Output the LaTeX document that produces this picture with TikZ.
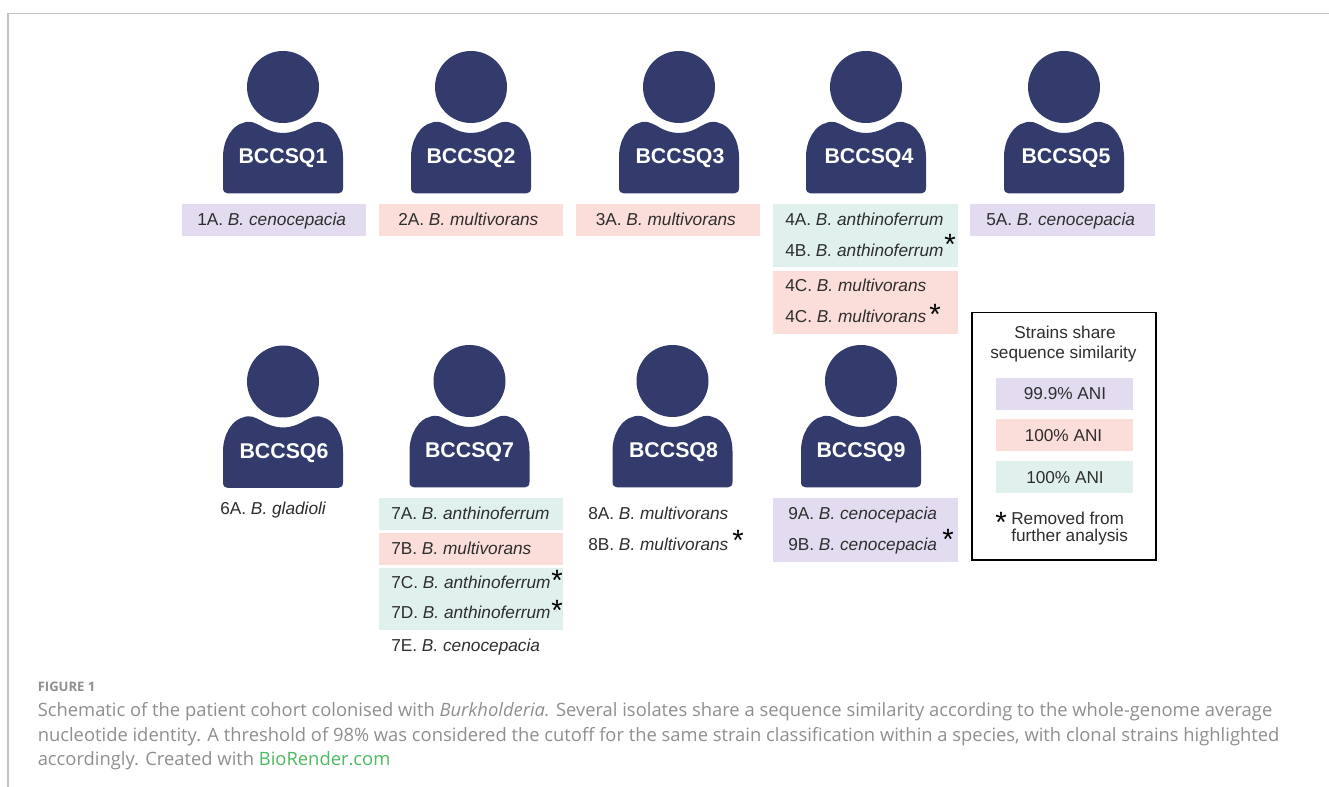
\documentclass[tikz,border=0pt]{standalone}
\usepackage{fontspec}
\setmainfont{Liberation Sans}
\newfontfamily\capfont{Open Sans}
\definecolor{navy}{HTML}{323B6B}
\definecolor{cpurple}{HTML}{E3DCF0}
\definecolor{cpink}{HTML}{FBDDDA}
\definecolor{cgreen}{HTML}{E0F1ED}
\definecolor{ink}{HTML}{2E2E2E}
\definecolor{capgrey}{HTML}{8F8F8F}
\definecolor{framegrey}{HTML}{C4C4C4}
\definecolor{linkgreen}{HTML}{4DBB5F}
\tikzset{
  lab/.style={anchor=base west,inner sep=0pt,text=ink,font=\fontsize{12.95}{14}\selectfont},
  legtxt/.style={anchor=base,inner sep=0pt,text=ink,align=center,font=\fontsize{12.9}{15}\selectfont},
  star/.style={anchor=center,inner sep=0pt,text=black,font=\fontsize{22}{22}\selectfont},
  patient/.style={anchor=center,inner sep=0pt,text=white,font=\bfseries\fontsize{16}{18}\selectfont},
  capt/.style={anchor=base west,inner sep=0pt,text=capgrey,font=\capfont\fontsize{13.78}{15}\selectfont},
}
\newcommand{\person}[5]{%
  \begin{scope}[shift={(#2,#3)}]
    \fill[navy] (0,0) circle[radius=36];
    \fill[navy] (-60,101) -- (-60,70)
      .. controls (-60,52) and (-50,38) .. (-40,36)
      .. controls (-33,33) and (-28,36) .. (-22,39)
      .. controls (-14,44) and (-7,46) .. (0,46)
      .. controls (7,46) and (14,44) .. (22,39)
      .. controls (28,36) and (33,33) .. (40,36)
      .. controls (50,38) and (60,52) .. (60,70)
      -- (60,101) .. controls (60,104.5) and (58,106.5) .. (55,106.5)
      -- (-55,106.5) .. controls (-58,106.5) and (-60,104.5) .. (-60,101) -- cycle;
    \node[patient] (#1) at (#5,71.5) {#4};
  \end{scope}}
\newcommand{\strain}[5]{\node[lab] (#1) at (#2,#3) {#4 \textit{B. #5}};}
\begin{document}
\begin{tikzpicture}[x=0.75pt,y=-0.75pt]
\useasboundingbox (0,0) rectangle (1329,787);
\fill[white] (0,0) rectangle (1329,787);
\draw[framegrey,line width=0.8pt] (8,787) -- (8,13.5) -- (1329,13.5);

% swatches
\fill[cpurple] (182,204) rectangle (366,236);
\fill[cpink] (379,204) rectangle (563,236);
\fill[cpink] (576,204) rectangle (760,236);
\fill[cgreen] (773,204) rectangle (958,267);
\fill[cpink] (773,271) rectangle (958,334);
\fill[cpurple] (970,204) rectangle (1155,236);
\fill[cgreen] (379,498.5) rectangle (563,530.5);
\fill[cpink] (379,533.5) rectangle (563,565);
\fill[cgreen] (379,568) rectangle (563,630);
\fill[cpurple] (773,498.5) rectangle (958,562);

% patients
\person{p1}{283}{87}{BCCSQ1}{0}
\person{p2}{471}{87}{BCCSQ2}{0}
\person{p3}{679}{87}{BCCSQ3}{1}
\person{p4}{866}{87}{BCCSQ4}{3}
\person{p5}{1064}{87}{BCCSQ5}{2}
\person{p6}{283}{381.5}{BCCSQ6}{1}
\person{p7}{469.5}{381}{BCCSQ7}{0}
\person{p8}{672.5}{381}{BCCSQ8}{1}
\person{p9}{861}{381}{BCCSQ9}{0}

% strains
\strain{s1a}{197}{226}{1A.}{cenocepacia}
\strain{s2a}{398}{226}{2A.}{multivorans}
\strain{s3a}{595.5}{226}{3A.}{multivorans}
\strain{s4a}{785}{226}{4A.}{anthinoferrum}
\strain{s4b}{785}{257}{4B.}{anthinoferrum}
\strain{s4c}{785}{292}{4C.}{multivorans}
\strain{s4d}{785}{323}{4C.}{multivorans}
\strain{s5a}{986}{226}{5A.}{cenocepacia}
\strain{s6a}{220}{515}{6A.}{gladioli}
\strain{s7a}{391}{520}{7A.}{anthinoferrum}
\strain{s7b}{391}{555}{7B.}{multivorans}
\strain{s7c}{391}{589}{7C.}{anthinoferrum}
\strain{s7d}{391}{619}{7D.}{anthinoferrum}
\strain{s7e}{391}{652}{7E.}{cenocepacia}
\strain{s8a}{588}{520}{8A.}{multivorans}
\strain{s8b}{588}{551}{8B.}{multivorans}
\strain{s9a}{788}{520}{9A.}{cenocepacia}
\strain{s9b}{788}{551}{9B.}{cenocepacia}

% asterisks
\node[star] (a4b) at (950,244.5) {*};
\node[star] (a4d) at (935,314) {*};
\node[star] (a7c) at (557,580) {*};
\node[star] (a7d) at (557,610) {*};
\node[star] (a8b) at (738,540) {*};
\node[star] (a9b) at (948,539.5) {*};

% legend
\draw[black,line width=1.1pt] (972,312.5) rectangle (1156,560);
\node[legtxt] (l1) at (1065,339) {Strains share};
\node[legtxt] (l2) at (1063.5,359) {sequence similarity};
\fill[cpurple] (996,378) rectangle (1133,410);
\fill[cpink] (996,419.5) rectangle (1133,451.5);
\fill[cgreen] (996,461.5) rectangle (1133,493);
\node[legtxt] (l3) at (1065,400) {99.9\% ANI};
\node[legtxt] (l4) at (1063.5,442) {100\% ANI};
\node[legtxt] (l5) at (1065,483.5) {100\% ANI};
\node[star] (l6) at (1001,522) {*};
\node[anchor=base west,inner sep=0pt,text=ink,align=left,font=\fontsize{12.9}{12.9}\selectfont] (l7) at (1011,541.7) {Removed from\\further analysis};

% caption
\node[capt,font=\capfont\bfseries\fontsize{9.8}{12}\selectfont] (c0) at (37.5,692) {FIGURE 1};
\node[capt] (c1) at (37.5,716) {Schematic of the patient cohort colonised with \textit{Burkholderia.} Several isolates share a sequence similarity according to the whole-genome average};
\node[capt] (c2) at (37.5,741) {nucleotide identity. A threshold of 98\% was considered the cutoff for the same strain classification within a species, with clonal strains highlighted};
\node[capt] (c3) at (37.5,765) {accordingly. Created with \textcolor{linkgreen}{BioRender.com}};
\end{tikzpicture}
\end{document}
